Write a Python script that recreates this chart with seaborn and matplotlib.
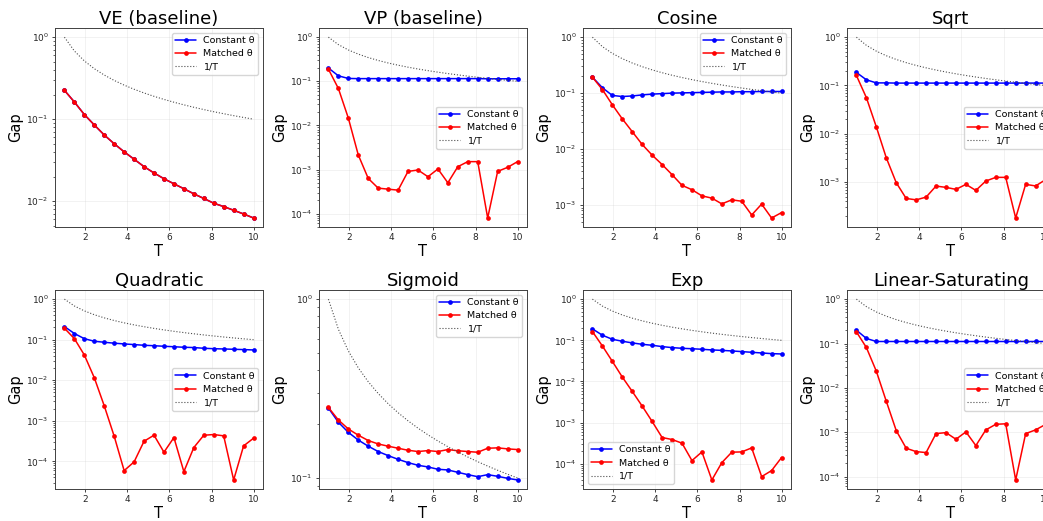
import numpy as np
import pandas as pd
import matplotlib
matplotlib.use("Agg")
import matplotlib.pyplot as plt
import seaborn as sns

# Sampling steps T (20 points between 1 and 10)
T = [1.0, 1.474, 1.947, 2.421, 2.895, 3.368, 3.842, 4.316, 4.789, 5.263,
     5.737, 6.211, 6.684, 7.158, 7.632, 8.105, 8.579, 9.053, 9.526, 10.0]

TITLES = ['VE (baseline)', 'VP (baseline)', 'Cosine', 'Sqrt',
          'Quadratic', 'Sigmoid', 'Exp', 'Linear-Saturating']

# Gap values
ve_matched = [0.225, 0.162, 0.114, 0.0851, 0.0642, 0.0502, 0.0400, 0.0325, 0.0264, 0.0221,
              0.0188, 0.0163, 0.0142, 0.0123, 0.0108, 0.00945, 0.0086, 0.00775, 0.00699, 0.00624]
ve_const = list(ve_matched)

vp_const = [0.200, 0.133, 0.116, 0.115, 0.115, 0.115, 0.115, 0.115, 0.115, 0.115,
            0.115, 0.115, 0.115, 0.115, 0.115, 0.115, 0.114, 0.114, 0.114, 0.114]
vp_matched = [0.188, 0.0687, 0.0147, 0.00214, 0.000628, 0.000379, 0.000359, 0.000341, 0.000908, 0.000975,
              0.000687, 0.00103, 0.000501, 0.00116, 0.00151, 0.00151, 7.97e-5, 0.000908, 0.00112, 0.00151]

cos_const = [0.193, 0.125, 0.091, 0.087, 0.089, 0.093, 0.096, 0.098, 0.100, 0.101,
             0.102, 0.103, 0.104, 0.105, 0.105, 0.106, 0.106, 0.107, 0.107, 0.107]
cos_matched = [0.193, 0.116, 0.062, 0.0347, 0.0205, 0.0121, 0.0078, 0.0053, 0.0035, 0.00225,
               0.00188, 0.00146, 0.00133, 0.00105, 0.00124, 0.00117, 0.000665, 0.00104, 0.000587, 0.000733]

sqrt_const = [0.186, 0.131, 0.113, 0.113, 0.112, 0.112, 0.112, 0.112, 0.112, 0.112,
              0.112, 0.112, 0.112, 0.112, 0.112, 0.112, 0.112, 0.112, 0.112, 0.112]
sqrt_matched = [0.161, 0.0559, 0.0139, 0.00318, 0.00097, 0.000457, 0.000428, 0.000487, 0.000826, 0.000775,
                0.000705, 0.000895, 0.000671, 0.00105, 0.00125, 0.00125, 0.00018, 0.000895, 0.00083, 0.00112]

quad_const = [0.211, 0.142, 0.106, 0.0915, 0.0864, 0.082, 0.0786, 0.0757, 0.0728, 0.071,
              0.0688, 0.067, 0.065, 0.064, 0.0614, 0.060, 0.059, 0.058, 0.057, 0.0558]
quad_matched = [0.192, 0.106, 0.042, 0.01155, 0.00234, 0.000417, 5.9e-5, 9.7e-5, 0.000313, 0.000441,
                0.000168, 0.000386, 5.57e-5, 0.000219, 0.00044, 0.000458, 0.000425, 3.47e-5, 0.00024, 0.000372]

sig_const = [0.246, 0.205, 0.180, 0.163, 0.1506, 0.1406, 0.1334, 0.1272, 0.1219, 0.1178,
             0.1153, 0.1119, 0.1109, 0.1076, 0.1044, 0.1017, 0.1044, 0.1022, 0.0996, 0.0975]
sig_matched = [0.248, 0.211, 0.188, 0.1735, 0.162, 0.155, 0.1506, 0.1467, 0.1429, 0.1406,
               0.1423, 0.1406, 0.1442, 0.142, 0.1406, 0.1393, 0.1467, 0.1474, 0.1455, 0.1442]

exp_const = [0.19, 0.133, 0.106, 0.095, 0.0865, 0.080, 0.0758, 0.0704, 0.0665, 0.064,
             0.0625, 0.0606, 0.0584, 0.057, 0.0552, 0.0532, 0.0512, 0.0493, 0.0475, 0.0466]
exp_matched = [0.163, 0.073, 0.0309, 0.01285, 0.00575, 0.00253, 0.00107, 0.000436, 0.00039, 0.000318,
               0.00012, 0.000195, 4.06e-5, 0.000107, 0.000192, 0.000195, 0.000244, 4.9e-5, 6.86e-5, 0.000142]

lin_const = [0.20, 0.13, 0.111, 0.111, 0.111, 0.111, 0.111, 0.111, 0.111, 0.111,
             0.111, 0.111, 0.111, 0.111, 0.111, 0.111, 0.111, 0.111, 0.111, 0.111]
lin_matched = [0.183, 0.0813, 0.0238, 0.0050, 0.00109, 0.000436, 0.000366, 0.000348, 0.000933, 0.00098,
               0.000695, 0.00102, 0.0005, 0.00113, 0.00151, 0.00155, 8.4e-5, 0.00093, 0.00113, 0.0015]

CONSTANT = [ve_const, vp_const, cos_const, sqrt_const, quad_const, sig_const, exp_const, lin_const]
MATCHED = [ve_matched, vp_matched, cos_matched, sqrt_matched, quad_matched, sig_matched, exp_matched, lin_matched]
LEGEND_LOC = ['upper right', 'center right', 'upper right', 'center right',
              'center right', 'upper right', 'lower left', 'center right']

sns.set_style("ticks")
plt.rcParams['font.family'] = ['DejaVu Sans']
plt.rcParams['text.color'] = 'black'
plt.rcParams['axes.labelcolor'] = 'black'
plt.rcParams['xtick.color'] = '0.15'
plt.rcParams['ytick.color'] = '0.15'

fig, axes = plt.subplots(2, 4, figsize=(10.43, 5.21), dpi=100)
fig.subplots_adjust(left=0.0527, right=1.0115, top=0.946, bottom=0.0614,
                    wspace=0.269, hspace=0.317)

for i, ax in enumerate(axes.flat):
    df = pd.DataFrame({'T': T, 'const': CONSTANT[i], 'matched': MATCHED[i]})
    sns.lineplot(data=df, x='T', y='const', ax=ax, color='blue', marker='o',
                 markersize=3.4, markeredgecolor='blue', markeredgewidth=0,
                 linewidth=1.1, label='Constant θ')
    sns.lineplot(data=df, x='T', y='matched', ax=ax, color='red', marker='o',
                 markersize=3.4, markeredgecolor='red', markeredgewidth=0,
                 linewidth=1.1, label='Matched θ')
    ref = 1.0 / np.array(T)
    ax.plot(T, ref, linestyle=':', color='0.3', linewidth=0.8, label='1/T')
    ax.set_yscale('log')
    ax.set_title(TITLES[i], fontsize=13, pad=3, color='black')
    ax.set_xlabel('T', fontsize=10.5, labelpad=1)
    ax.set_ylabel('Gap', fontsize=10.5, labelpad=2)
    ax.set_xticks([2, 4, 6, 8, 10])
    ax.tick_params(axis='both', which='major', labelsize=6.5, length=2.5, width=0.6, pad=2)
    ax.tick_params(axis='y', which='minor', length=1.5, width=0.5)
    ax.grid(True, which='major', alpha=0.3, linewidth=0.6)
    for sp in ax.spines.values():
        sp.set_linewidth(0.7)
        sp.set_color('0.25')
    ax.legend(loc=LEGEND_LOC[i], fontsize=6.8, handlelength=2.2,
              borderpad=0.35, labelspacing=0.45, framealpha=0.8)

fig.savefig('out.png', dpi=100)
